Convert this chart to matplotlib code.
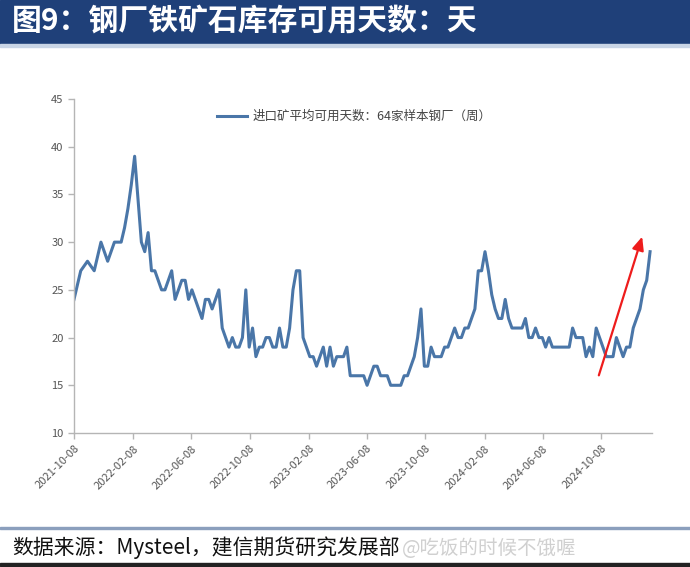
import numpy as np
import pandas as pd
import matplotlib
matplotlib.use("Agg")
import matplotlib.pyplot as plt
import matplotlib.dates as mdates

plt.rcParams["font.family"] = ["Noto Sans CJK SC", "DejaVu Sans"]

TITLE = "图9：钢厂铁矿石库存可用天数：天"
SOURCE = "数据来源：Mysteel，建信期货研究发展部"
WATERMARK = "@吃饭的时候不饿喔"
LEGEND = "进口矿平均可用天数：64家样本钢厂（周）"

START = "2021-10-08"
# weekly values
days = [
    24, 25.5, 27, 27.5, 28, 27.5, 27, 28.5, 30, 29,
    28, 29, 30, 30, 30, 31.5, 33.5, 36, 39, 34.5,
    30, 29, 31, 27, 27, 26, 25, 25, 26, 27,
    24, 25, 26, 26, 24, 25, 24, 23, 22, 24,
    24, 23, 24, 25, 21, 20, 19, 20, 19, 19,
    20, 25, 19, 21, 18, 19, 19, 20, 20, 19,
    19, 21, 19, 19, 21, 25, 27, 27, 20, 19,
    18, 18, 17, 18, 19, 17, 19, 17, 18, 18,
    18, 19, 16, 16, 16, 16, 16, 15, 16, 17,
    17, 16, 16, 16, 15, 15, 15, 15, 16, 16,
    17, 18, 20, 23, 17, 17, 19, 18, 18, 18,
    19, 19, 20, 21, 20, 20, 21, 21, 22, 23,
    27, 27, 29, 27, 24.5, 23, 22, 22, 24, 22,
    21, 21, 21, 21, 22, 20, 20, 21, 20, 20,
    19, 20, 19, 19, 19, 19, 19, 19, 21, 20,
    20, 20, 18, 19, 18, 21, 20, 19, 18, 18,
    18, 20, 19, 18, 19, 19, 21, 22, 23, 25,
    26, 29,
]
yticks = [10, 15, 20, 25, 30, 35, 40, 45]

dates = pd.date_range(START, periods=len(days), freq="7D")
tick_dates = pd.date_range(START, "2024-10-08", freq=pd.DateOffset(months=4))

W, H = 690, 567
fig = plt.figure(figsize=(W / 100, H / 100), dpi=100)

# title bar
fig.patches.append(plt.Rectangle((0, 1 - 44 / H), 1, 44 / H, transform=fig.transFigure,
                                 color="#1f4079", zorder=0))
fig.patches.append(plt.Rectangle((0, 1 - 47 / H), 1, 3 / H, transform=fig.transFigure,
                                 color="#c9d5e6", zorder=0))
fig.text(12 / W, 1 - 21 / H, TITLE, color="white", fontsize=21.5, fontweight="bold",
         va="center", ha="left")

# footer
fig.patches.append(plt.Rectangle((0, 1 - 529 / H), 1, 2 / H, transform=fig.transFigure,
                                 color="#8b9fbd", zorder=0))
fig.patches.append(plt.Rectangle((0, 1 - 566 / H), 1, 3 / H, transform=fig.transFigure,
                                 color="#222222", zorder=0))
fig.text(12 / W, 1 - 548 / H, SOURCE, color="#111111", fontsize=15, va="center", ha="left")
fig.text(402 / W, 1 - 548 / H, WATERMARK, color="#d0d0d0", fontsize=14, va="center", ha="left")

ax = fig.add_axes([74 / W, 1 - 433 / H, (652 - 74) / W, (433 - 99) / H])
ax.plot(dates, days, color="#4a76a8", lw=2.2, label=LEGEND)

ax.set_ylim(10, 45)
ax.set_yticks(yticks)
ax.set_xlim(dates[0], dates[-1] + pd.Timedelta(days=4))
ax.set_xticks(tick_dates)
ax.xaxis.set_major_formatter(mdates.DateFormatter("%Y-%m-%d"))
for lbl in ax.get_xticklabels():
    lbl.set_rotation(45)
    lbl.set_ha("right")
    lbl.set_rotation_mode("anchor")

for s in ("top", "right"):
    ax.spines[s].set_visible(False)
for s in ("left", "bottom"):
    ax.spines[s].set_color("#b5b5b5")
    ax.spines[s].set_linewidth(1.0)
ax.tick_params(axis="both", colors="#b5b5b5", labelcolor="#555555", labelsize=8,
               length=4, width=1.0)

ax.legend(loc="upper center", bbox_to_anchor=(0.485, 1.0), frameon=False,
          fontsize=9, handlelength=2.4, handletextpad=0.5, labelcolor="#444444")

# red arrow annotation
fig.add_artist(matplotlib.patches.FancyArrowPatch(
    (598 / W, 1 - 378 / H), (643 / W, 1 - 234 / H), transform=fig.transFigure,
    arrowstyle="-|>,head_length=8,head_width=3.5", color="#ee1c1c", lw=1.6))

fig.savefig("out.png", dpi=100)
